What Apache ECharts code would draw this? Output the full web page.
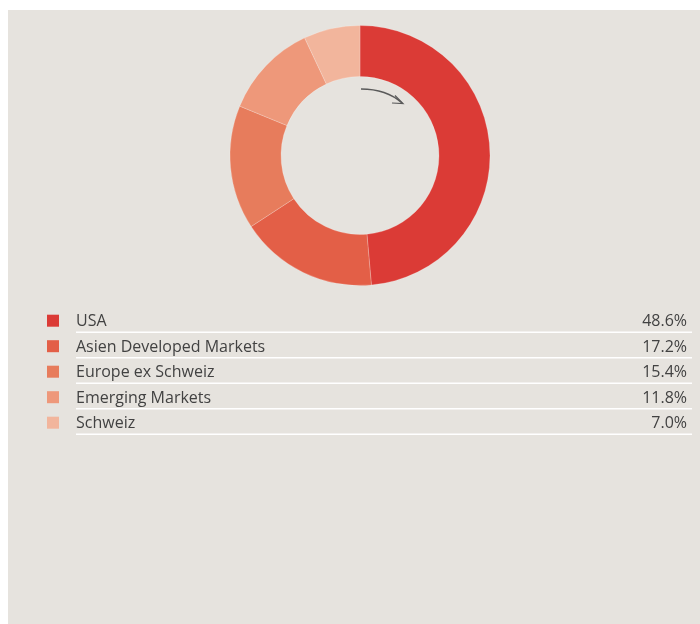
<!DOCTYPE html>
<html>
<head>
<meta charset="utf-8">
<script src="https://cdn.jsdelivr.net/npm/echarts@6/dist/echarts.min.js"></script>
<style>
  html, body { margin: 0; padding: 0; background: #ffffff; }
  #chart { width: 700px; height: 624px; }
</style>
</head>
<body>
<div id="chart"></div>
<script>
// Regional allocation, clockwise from 12 o'clock
const regions = ['USA', 'Asien Developed Markets', 'Europe ex Schweiz', 'Emerging Markets', 'Schweiz'];
const shares = [48.6, 17.2, 15.4, 11.8, 7.0];
const sliceColors = ['#db3b36', '#e35f47', '#e77c5c', '#ee987a', '#f2b59c'];

const chart = echarts.init(document.getElementById('chart'), null, { renderer: 'canvas' });

const FONT = '"Open Sans", "Noto Sans", sans-serif';
const rowTop = 320.7;   // centre of the first table row
const rowStep = 25.5;

const graphics = [
  // panel background
  { type: 'rect', shape: { x: 8, y: 10, width: 692, height: 614 }, style: { fill: '#e6e3de' }, z: -10 },
  // clockwise reading arrow inside the ring
  { type: 'bezierCurve', shape: { x1: 361, y1: 89, cpx1: 378, cpy1: 89, cpx2: 392, cpy2: 94, x2: 402, y2: 103 },
    style: { stroke: '#5a5a5a', lineWidth: 1.4, fill: null } },
  { type: 'polyline', shape: { points: [[395, 95.5], [403, 103.5], [392, 103]] },
    style: { stroke: '#5a5a5a', lineWidth: 1.2, fill: null } }
];

regions.forEach(function (name, i) {
  const cy = rowTop + rowStep * i;
  graphics.push(
    { type: 'rect', shape: { x: 47, y: cy - 6, width: 12, height: 12 }, style: { fill: sliceColors[i] } },
    { type: 'text', x: 76, y: cy + 1, style: { text: name, font: '16px ' + FONT, fill: '#424242', verticalAlign: 'middle', align: 'left' } },
    { type: 'text', x: 687, y: cy + 1, style: { text: shares[i].toFixed(1) + '%', font: '16px ' + FONT, fill: '#424242', verticalAlign: 'middle', align: 'right' } },
    { type: 'line', shape: { x1: 76, y1: cy + 11.5, x2: 692, y2: cy + 11.5 }, style: { stroke: '#ffffff', lineWidth: 1.5 } }
  );
});

chart.setOption({
  backgroundColor: '#ffffff',
  animation: false,
  graphic: graphics,
  series: [{
    type: 'pie',
    center: [360, 155.5],
    radius: [79, 130],
    startAngle: 90,
    clockwise: true,
    silent: true,
    label: { show: false },
    labelLine: { show: false },
    itemStyle: { borderColor: 'rgba(255,255,255,0.35)', borderWidth: 0.6 },
    data: regions.map(function (name, i) {
      return { name: name, value: shares[i], itemStyle: { color: sliceColors[i] } };
    })
  }]
});
</script>
</body>
</html>
